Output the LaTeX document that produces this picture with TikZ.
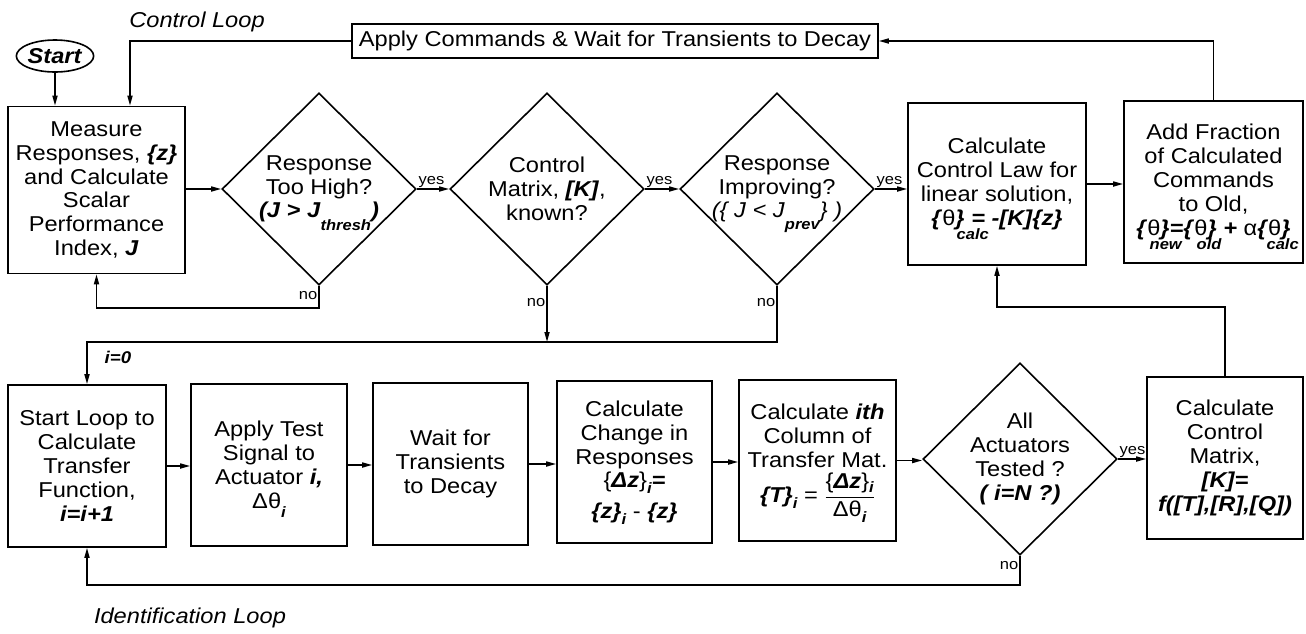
\documentclass[tikz,border=0pt]{standalone}
\usepackage{amsmath}
\usepackage{fontspec}
\setmainfont{Liberation Sans}[FakeStretch=1.1]
\usetikzlibrary{shapes.geometric,arrows.meta}
\newcommand{\bodyfont}{\fontsize{21.5}{23.8}\selectfont}
\newcommand{\smallfont}{\fontsize{15}{16}\selectfont}
\newcommand{\bi}[1]{\textbf{\textit{#1}}}
\newcommand{\lowtxt}[2][9pt]{\raisebox{-#1}[0pt][0pt]{\fontsize{15}{15}\selectfont\bfseries\itshape #2}}
\newcommand{\thetavec}{\bi{\{}θ\bi{\}}}
\tikzstyle{box}=[draw, rectangle, align=center, inner sep=0pt, minimum height=162pt, font=\bodyfont]
\tikzstyle{decision}=[draw, diamond, align=center, inner sep=-10pt, minimum width=194pt, minimum height=192pt, font=\bodyfont]
\tikzstyle{lbl}=[inner sep=1pt, font=\smallfont]
\tikzset{arr/.style={-{Triangle[length=10pt,width=5pt]}}}

\begin{document}
\begin{tikzpicture}[x=1pt, y=-1pt, line width=1.6pt]
  \useasboundingbox (0,0) rectangle (1306,633);
  % control loop
  \node[draw, ellipse, minimum width=77pt, minimum height=32pt, inner sep=0pt, font=\bodyfont] (start) at (55,56) {\bi{Start}};
  \node[font=\bodyfont\itshape] (ctrllbl) at (197,22) {Control Loop};
  \node[box, minimum width=526pt, minimum height=34pt] (apply) at (615,41) {Apply Commands \& Wait for Transients to Decay};
  \node[box, minimum width=177pt, minimum height=167pt] (measure) at (96.5,190) {Measure\\Responses, \bi{\{z\}}\\and Calculate\\Scalar\\Performance\\Index, \bi{J}};
  \node[decision] (high) at (319,189) {Response\\Too High?\\\bi{(J > J}\lowtxt[13pt]{thresh}\bi{)}};
  \node[decision] (known) at (547,189) {Control\\Matrix, \bi{[K]},\\known?};
  \node[decision] (improve) at (777,189) {Response\\Improving?\\\textit{(\{ J < J}\lowtxt[12pt]{prev}\textit{\} )}};
  \node[box, minimum width=178pt] (ccl) at (997,184) {Calculate\\Control Law for\\linear solution,\\\thetavec\rlap{\kern-8pt\lowtxt[14pt]{calc}} \bi{= -[K]\{z\}}};
  \node[box, minimum width=179pt] (add) at (1213.5,182) {Add Fraction\\of Calculated\\Commands\\to Old,\\\thetavec\rlap{\kern-20pt\lowtxt[14pt]{new}}\bi{=}\thetavec\rlap{\kern-20pt\lowtxt[14pt]{old}} \bi{+} α\thetavec\rlap{\kern-24pt\lowtxt[14pt]{calc}}};

  % identification loop
  \node[box, minimum width=158pt] (startloop) at (87,466) {Start Loop to\\Calculate\\Transfer\\Function,\\\bi{i=i+1}};
  \node[box, minimum width=156pt] (applytest) at (269,465) {Apply Test\\Signal to\\Actuator \bi{i,}\\Δθ\lowtxt{i}};
  \node[box, minimum width=155pt] (wait) at (450.5,464) {Wait for\\Transients\\to Decay};
  \node[box, minimum width=155pt] (change) at (634.5,462) {Calculate\\Change in\\Responses\\\{\bi{Δz}\}\lowtxt[6pt]{i}\bi{=}\\[7pt]\bi{\{z\}}\lowtxt[6pt]{i} - \bi{\{z\}}};
  \node[box, minimum width=157pt, minimum height=161pt] (column) at (817.5,460.5) {Calculate \bi{ith}\\Column of\\Transfer Mat.\\[4pt]\bi{\{T\}}\lowtxt[6pt]{i} = $\dfrac{\hbox{\{\bi{Δz}\}\lowtxt[4pt]{i}}}{\hbox{Δθ\lowtxt[6pt]{i}}}$};
  \node[decision] (tested) at (1020,459) {All\\Actuators\\Tested ?\\\bi{( i=N ?)}};
  \node[box, minimum width=156pt] (ccm) at (1225,458) {Calculate\\Control\\Matrix,\\\bi{[K]=}\\\bi{f([T],[R],[Q])}};
  \node[font=\bodyfont\itshape] (identlbl) at (190,618) {Identification Loop};

  \coordinate (noA) at (319,308);
  \coordinate (jn) at (777,342);
  \coordinate (fb) at (1225,307);
  \coordinate (nb) at (1020,585);

  % top connectors
  \draw[arr] (start.south) -- (start.south |- measure.north);
  \draw[arr] (apply.west) -| ([xshift=33.5pt]measure.north);
  \draw[arr] (measure.east |- high) -- (high.west);
  \draw[arr] (high.east) -- node[lbl, anchor=south west, pos=0] (yes1) {yes} (known.west);
  \draw[arr] (known.east) -- node[lbl, anchor=south west, pos=0] (yes2) {yes} (improve.west);
  \draw[arr] (improve.east) -- node[lbl, anchor=south west, pos=0] (yes3) {yes} (improve.east -| ccl.west);
  \draw[arr] (ccl.east) -- (ccl.east -| add.west);
  \draw[arr] (add.north) |- (apply.east);
  \draw[arr] (high.south) -- node[lbl, left, pos=0.45] (no1) {no} (noA) -| (measure.south);
  \draw[arr] (known.south) -- node[lbl, left, pos=0.3] (no2) {no} (known.south |- jn);
  \draw[arr] (improve.south) -- node[lbl, left, pos=0.3] (no3) {no} (jn) -| (startloop.north);
  \node[lbl, font=\fontsize{17}{17}\selectfont] (izero) at (118,357) {\bi{i=0}};

  % bottom connectors
  \draw[arr] (startloop.east) -- (startloop.east -| applytest.west);
  \draw[arr] (applytest.east) -- (applytest.east -| wait.west);
  \draw[arr] (wait.east) -- (wait.east -| change.west);
  \draw[arr] (change.east) -- (change.east -| column.west);
  \draw[arr] (column.east) -- (column.east -| tested.west);
  \draw[arr] (tested.east) -- node[lbl, anchor=south west, pos=0] (yes4) {yes} (tested.east -| ccm.west);
  \draw[arr] (tested.south) -- node[lbl, left, pos=0.35] (no4) {no} (nb) -| (startloop.south);
  \draw[arr] (ccm.north) -- (fb) -| (ccl.south);
\end{tikzpicture}
\end{document}
